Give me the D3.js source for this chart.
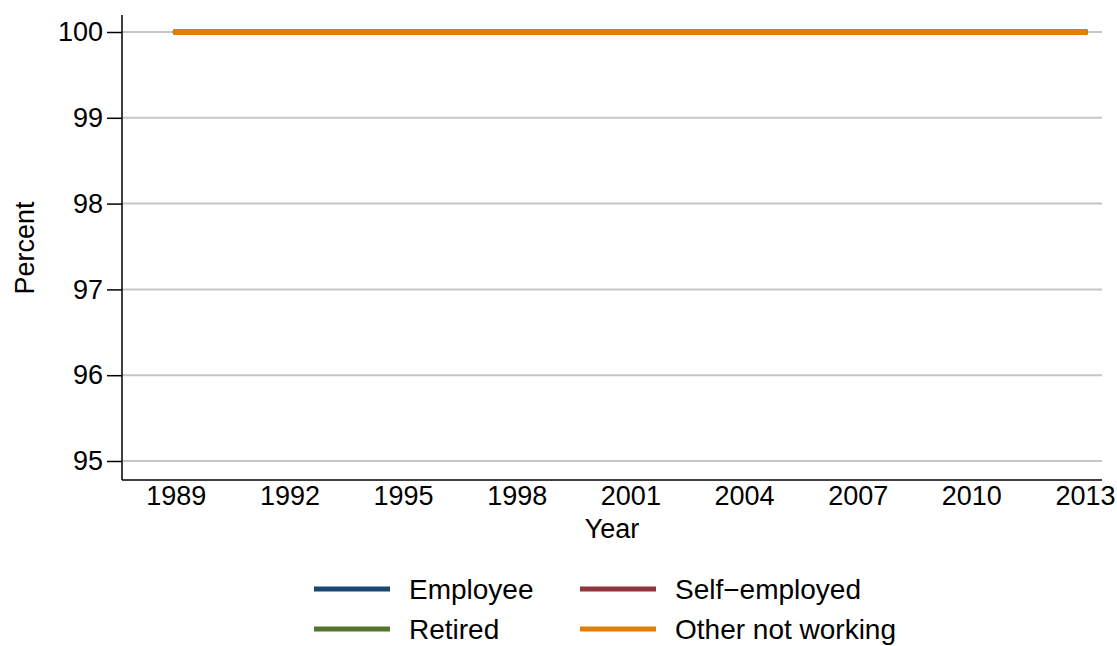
<!DOCTYPE html>
<html>
<head>
<meta charset="utf-8">
<script src="https://cdn.jsdelivr.net/npm/d3@7"></script>
<style>
  body { margin: 0; background: #fff; }
  svg text { font-family: "Liberation Sans", Arial, sans-serif; fill: #000; }
</style>
</head>
<body>
<svg width="1117" height="646"></svg>
<script>
var years = [1989, 1990, 1991, 1992, 1993, 1994, 1995, 1996, 1997, 1998, 1999, 2000, 2001,
             2002, 2003, 2004, 2005, 2006, 2007, 2008, 2009, 2010, 2011, 2012, 2013];

var employee     = [100, 100, 100, 100, 100, 100, 100, 100, 100, 100, 100, 100, 100,
                    100, 100, 100, 100, 100, 100, 100, 100, 100, 100, 100, 100];
var selfEmployed = [100, 100, 100, 100, 100, 100, 100, 100, 100, 100, 100, 100, 100,
                    100, 100, 100, 100, 100, 100, 100, 100, 100, 100, 100, 100];
var retired      = [100, 100, 100, 100, 100, 100, 100, 100, 100, 100, 100, 100, 100,
                    100, 100, 100, 100, 100, 100, 100, 100, 100, 100, 100, 100];
var otherNotWork = [100, 100, 100, 100, 100, 100, 100, 100, 100, 100, 100, 100, 100,
                    100, 100, 100, 100, 100, 100, 100, 100, 100, 100, 100, 100];

var seriesNames = ["Employee", "Self\u2212employed", "Retired", "Other not working"];
var seriesColors = ["#1a476f", "#90353b", "#55752f", "#e37e00"];
var xTicks = [1989, 1992, 1995, 1998, 2001, 2004, 2007, 2010, 2013];
var yTicks = [95, 96, 97, 98, 99, 100];

var svg = d3.select("svg");
var fs = 27;

var x = d3.scaleLinear().domain([1987.58, 2013.45]).range([122, 1102]);
var y = d3.scaleLinear().domain([95, 100]).range([461, 32]);

// gridlines
svg.append("g")
    .selectAll("line")
    .data(yTicks)
    .enter().append("line")
    .attr("x1", 122).attr("x2", 1102)
    .attr("y1", function(d) { return y(d); })
    .attr("y2", function(d) { return y(d); })
    .attr("stroke", "#c6c6c6")
    .attr("stroke-width", 2);

// y axis
var yAxis = svg.append("g")
    .attr("transform", "translate(122,0)")
    .call(d3.axisLeft(y).tickValues(yTicks).tickSize(15).tickPadding(4).tickFormat(d3.format("d")));
yAxis.attr("font-size", fs);
yAxis.select(".domain").attr("d", "M0,15V480").attr("stroke", "#000").attr("stroke-width", 1.5);
yAxis.selectAll(".tick line").attr("stroke", "#000").attr("stroke-width", 1.5);

// x axis
var xAxis = svg.append("g")
    .attr("transform", "translate(0,480)")
    .call(d3.axisBottom(x).tickValues(xTicks).tickSize(0).tickPadding(6).tickFormat(d3.format("d")));
xAxis.attr("font-size", fs);
xAxis.select(".domain").attr("d", "M122,0H1102").attr("stroke", "#000").attr("stroke-width", 1.5);

svg.append("text")
    .attr("x", 612).attr("y", 538)
    .attr("text-anchor", "middle")
    .attr("font-size", fs)
    .text("Year");

svg.append("text")
    .attr("transform", "translate(34,248) rotate(-90)")
    .attr("text-anchor", "middle")
    .attr("font-size", fs)
    .text("Percent");

// lines
var allSeries = [employee, selfEmployed, retired, otherNotWork];
var line = d3.line()
    .x(function(d, i) { return x(years[i]); })
    .y(function(d) { return y(d); });

svg.append("g")
    .selectAll("path")
    .data(allSeries)
    .enter().append("path")
    .attr("d", line)
    .attr("fill", "none")
    .attr("stroke", function(d, i) { return seriesColors[i]; })
    .attr("stroke-width", 6)
    .attr("stroke-linecap", "round")
    .attr("stroke-linejoin", "round");

// legend
var legend = svg.append("g")
    .selectAll("g")
    .data(seriesNames)
    .enter().append("g")
    .attr("transform", function(d, i) {
        return "translate(" + (i % 2 === 0 ? 314 : 580) + "," + (i < 2 ? 589 : 629) + ")";
    });

legend.append("line")
    .attr("x1", 0).attr("x2", 76)
    .attr("y1", 0).attr("y2", 0)
    .attr("stroke", function(d, i) { return seriesColors[i]; })
    .attr("stroke-width", 5);

legend.append("text")
    .attr("x", 95).attr("y", 0)
    .attr("dy", "0.35em")
    .attr("font-size", 28)
    .text(function(d) { return d; });
</script>
</body>
</html>
